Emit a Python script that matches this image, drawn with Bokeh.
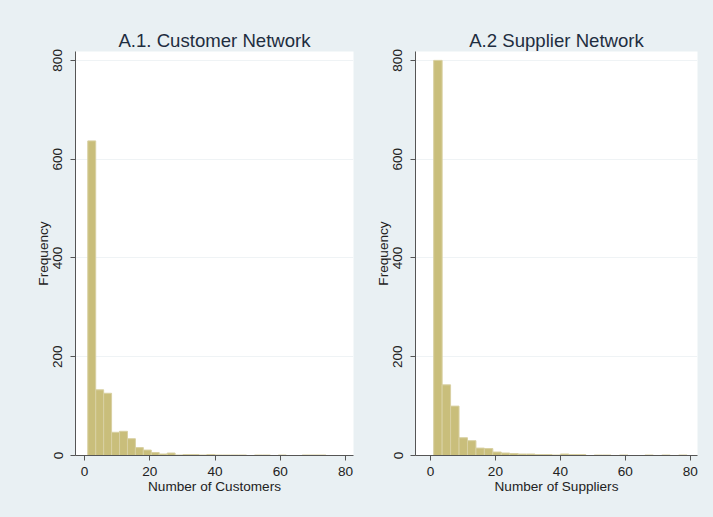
import numpy as np
from bokeh.plotting import figure
from bokeh.layouts import row
from bokeh.models import Range1d, FixedTicker
from bokeh.embed import file_html
from bokeh.resources import INLINE

# ---- data ----
n_bins = 30
cust_min, cust_max = 1, 74
supp_min, supp_max = 1, 79
cust_counts = [637, 133, 126, 47, 49, 34, 16, 11, 6, 3,
               5, 1, 2, 2, 1, 2, 1, 1, 1, 1,
               0, 1, 1, 0, 1, 0, 0, 1, 1, 1]
supp_counts = [800, 143, 100, 36, 30, 15, 14, 7, 5, 4,
               3, 3, 2, 2, 1, 3, 2, 2, 0, 1,
               1, 0, 1, 0, 0, 1, 0, 1, 0, 1]
x_ticks = [0, 20, 40, 60, 80]
y_ticks = [0, 200, 400, 600, 800]
titles = ["A.1. Customer Network", "A.2 Supplier Network"]
x_labels = ["Number of Customers", "Number of Suppliers"]
y_label = "Frequency"

BG = "#E9F0F3"
BAR = "#C9BE7B"
BAR_LINE = "#D8D0A2"
AXIS = "#555555"
TXT = "#222222"
FONT = "Liberation Sans"


def make(title, counts, lo, hi, xlabel, xr, width, ml, mr):
    edges = np.linspace(lo, hi, n_bins + 1)
    p = figure(width=width, height=517, output_backend="svg", toolbar_location=None,
               x_range=Range1d(*xr), y_range=Range1d(0, 818),
               min_border_left=ml, min_border_right=mr,
               min_border_top=51, min_border_bottom=62)
    p.quad(left=edges[:-1], right=edges[1:], bottom=0, top=counts,
           fill_color=BAR, line_color=BAR_LINE, line_width=1)
    p.title.text = title
    p.title.align = "center"
    p.title.text_font = FONT
    p.title.text_font_size = "18.6px"
    p.title.text_font_style = "normal"
    p.title.text_color = "#1E2D40"
    p.title.standoff = 1
    p.background_fill_color = "white"
    p.border_fill_color = BG
    p.outline_line_color = None
    p.xgrid.visible = False
    p.ygrid.grid_line_color = "#EFF3F5"
    p.ygrid.ticker = FixedTicker(ticks=y_ticks)
    p.xaxis.ticker = FixedTicker(ticks=x_ticks)
    p.yaxis.ticker = FixedTicker(ticks=y_ticks)
    p.yaxis.major_label_orientation = "vertical"
    p.xaxis.axis_label = xlabel
    p.yaxis.axis_label = y_label
    for ax in (p.xaxis, p.yaxis):
        ax.axis_line_color = AXIS
        ax.major_tick_line_color = AXIS
        ax.major_tick_in = 0
        ax.major_tick_out = 5
        ax.minor_tick_line_color = None
        ax.major_label_text_font = FONT
        ax.major_label_text_font_size = "13.6px"
        ax.major_label_text_color = TXT
        ax.axis_label_text_font = FONT
        ax.axis_label_text_font_size = "13.6px"
        ax.axis_label_text_font_style = "normal"
        ax.axis_label_text_color = TXT
        ax.axis_label_standoff = 0
    p.yaxis.major_label_standoff = 8
    p.xaxis.major_label_standoff = 6
    return p


p1 = make(titles[0], cust_counts, cust_min, cust_max, x_labels[0],
          (-2.76, 82.45), 356, 75, 3)
p2 = make(titles[1], supp_counts, supp_min, supp_max, x_labels[1],
          (-4.6, 82.2), 357, 59, 16)

p = row(p1, p2, spacing=0, styles={"background-color": BG})
open("out.html", "w").write(file_html(p, INLINE))
